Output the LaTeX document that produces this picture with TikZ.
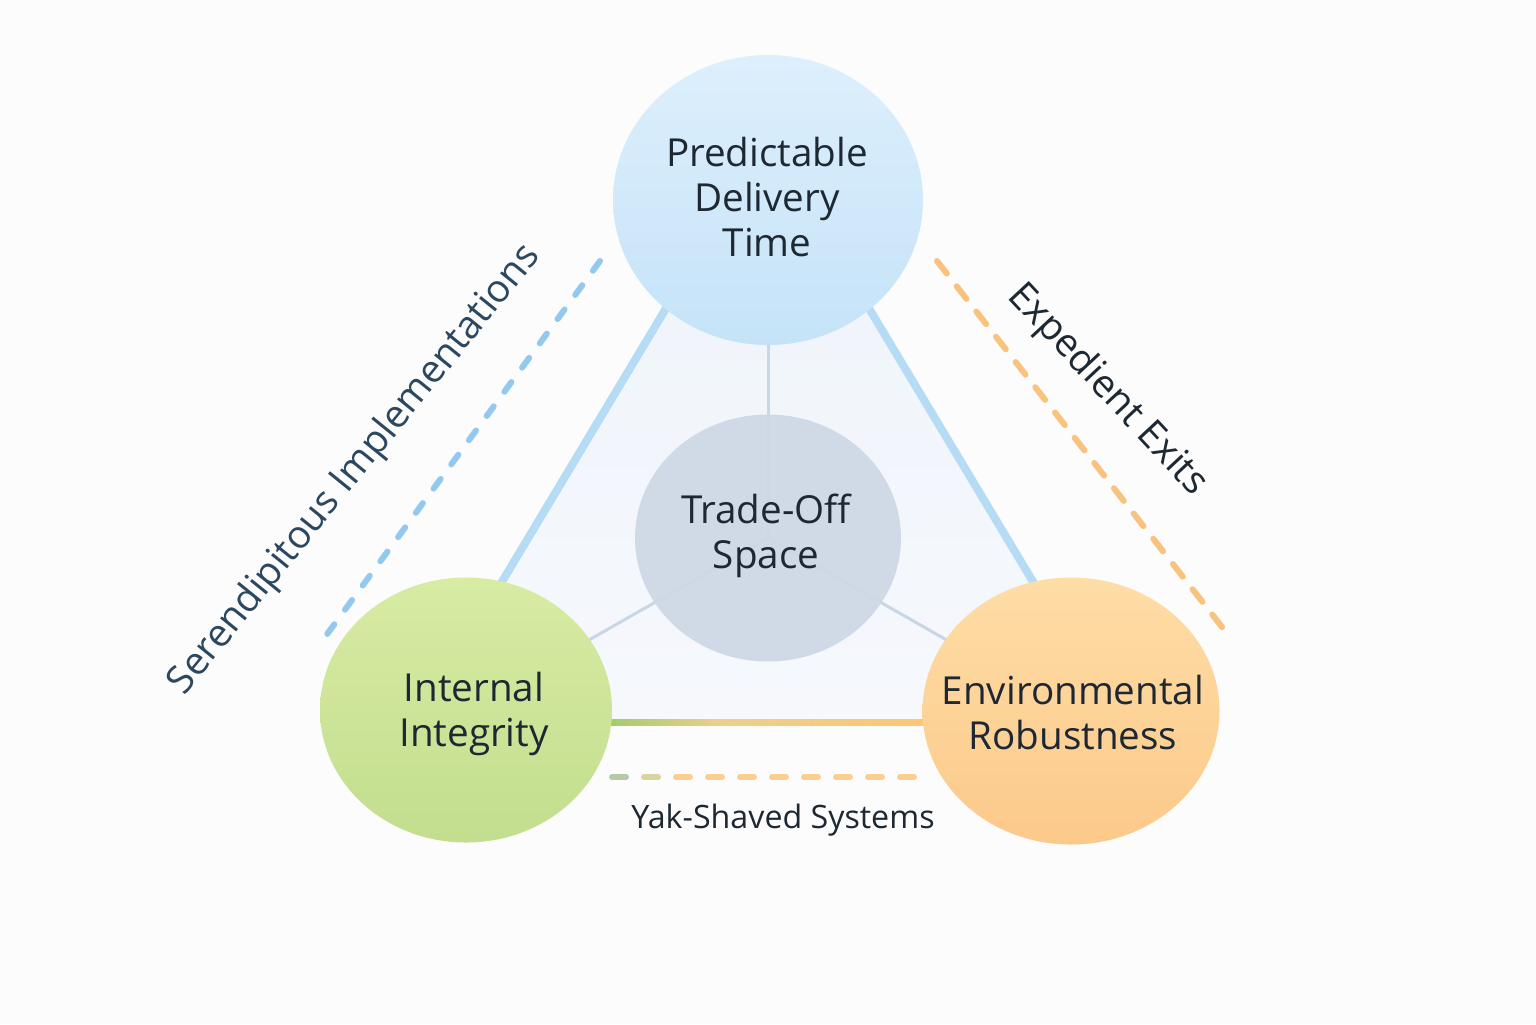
\documentclass[tikz,border=0pt]{standalone}
\usepackage{fontspec}
\setmainfont{Open Sans}
\usetikzlibrary{shapes.geometric,calc}
\definecolor{bg}{HTML}{FCFCFD}
\definecolor{triA}{HTML}{EEF4FB}
\definecolor{triB}{HTML}{F6F8FC}
\definecolor{topA}{HTML}{DDEFFC}
\definecolor{topB}{HTML}{C5E3F8}
\definecolor{leftA}{HTML}{D8EBA3}
\definecolor{leftB}{HTML}{C2DE8E}
\definecolor{rightA}{HTML}{FEDDA6}
\definecolor{rightB}{HTML}{FCC98A}
\definecolor{midfill}{HTML}{CFD9E6}
\definecolor{edgeblue}{HTML}{B6DCF5}
\definecolor{spoke}{HTML}{C9D6E4}
\definecolor{dashblue}{HTML}{93C9EE}
\definecolor{dashorange}{HTML}{FAC27F}
\definecolor{dashorangeB}{HTML}{FCCD8E}
\definecolor{dashgreen}{HTML}{B5CAA5}
\definecolor{dashmix}{HTML}{D9D39C}
\definecolor{linegreen}{HTML}{9DCB6B}
\definecolor{lineorange}{HTML}{FCC670}
\definecolor{linemix}{HTML}{EDCF8C}
\definecolor{txt}{HTML}{1E2833}
\definecolor{slate}{HTML}{2C4760}
\pgfdeclarelayer{back}
\pgfsetlayers{back,main}
\tikzset{
  bubble/.style={ellipse, draw=none, inner sep=0pt},
  bubbletext/.style={align=center, text=txt, inner sep=0pt,
    font=\fontsize{19.3}{22.5}\selectfont},
  sidelabel/.style={font=\fontsize{19.3}{22}\selectfont, inner sep=0pt},
  edgeline/.style={draw=edgeblue, line width=4pt},
  spokeline/.style={draw=spoke, line width=1.5pt},
  dashline/.style={line width=3pt, line cap=round},
}
\begin{document}
\begin{tikzpicture}[x=0.5pt,y=-0.5pt]
\useasboundingbox (0,0) rectangle (1536,1024);

% bubbles
\node[bubble, minimum width=155pt, minimum height=145pt, top color=topA, bottom color=topB]
  (top) at (768,200) {};
\node[bubble, minimum width=146pt, minimum height=132.5pt, top color=leftA, bottom color=leftB]
  (left) at (466,710) {};
\node[bubble, minimum width=148.5pt, minimum height=133.5pt, top color=rightA, bottom color=rightB]
  (right) at (1071,711) {};
\node[bubble, minimum width=133pt, minimum height=123.5pt, fill=midfill, fill opacity=0.97]
  (mid) at (768,538) {};

% bubble texts
\node[bubbletext] (topT) at (767,197) {Predictable\\Delivery\\Time};
\node[bubbletext] (leftT) at (474,714) {Internal\\Integrity};
\node[bubbletext] (rightT) at (1073,713) {Environmental\\Robustness};
\node[bubbletext] (midT) at (766,536) {Trade-Off\\Space};

% labels
\node[sidelabel, text=slate, rotate=51] (serlab) at (355,470) {Serendipitous Implementations};
\node[sidelabel, text=txt, rotate=-47] (explab) at (1107,390) {Expedient Exits};
\node[font=\fontsize{16.1}{18}\selectfont, text=txt, inner sep=0pt] (yaklab) at (783,820) {Yak-Shaved Systems};

% dashed guide coordinates
\coordinate (sA) at (600,261);
\coordinate (sB) at (325,637);
\coordinate (eA) at (937,261);
\coordinate (eB) at (1229,636);

\begin{pgfonlayer}{back}
  \fill[bg] (0,0) rectangle (1536,1024);
  \shade[top color=triA, bottom color=triB] (767,139) -- (418,722) -- (1117,722) -- cycle;
  % spokes
  \draw[spokeline] (mid.center) -- (top.center);
  \draw[spokeline] (mid.center) -- (left.center);
  \draw[spokeline] (mid.center) -- (right.center);
  % triangle edges
  \draw[edgeline] ($(top.center)+(-86.5,82.5)$) -- ($(left.center)+(25.75,-111.25)$);
  \draw[edgeline] ($(top.center)+(85.5,82.5)$) -- ($(right.center)+(-27.75,-112.25)$);
  % bottom gradient edge
  \shade[left color=linegreen, right color=linemix] (600,719) rectangle (720,725);
  \shade[left color=linemix, right color=lineorange] (720,719) rectangle (935,725);
\end{pgfonlayer}

% dashed guides
\draw[dashline, draw=dashblue, dash pattern=on 6pt off 9pt] (sA) -- (sB);
\draw[dashline, draw=dashorange, dash pattern=on 8pt off 8pt] (eA) -- (eB);
\coordinate (yA) at (612,777);
\draw[dashline, draw=dashgreen] (yA) -- ++(14,0);
\draw[dashline, draw=dashmix] ($(yA)+(32,0)$) -- ++(14,0);
\foreach \i in {2,...,9} {
  \draw[dashline, draw=dashorangeB] ($(yA)+(32*\i,0)$) -- ++(14,0);
}
\end{tikzpicture}
\end{document}
